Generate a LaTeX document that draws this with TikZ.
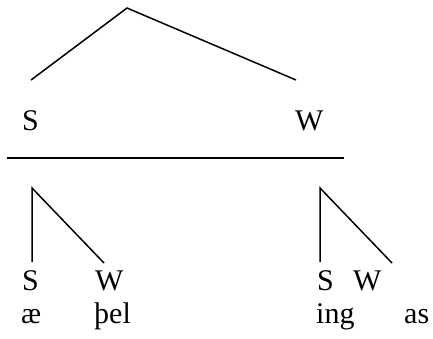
\documentclass[tikz,border=0pt]{standalone}
\usepackage{fontspec}
\setmainfont{Liberation Serif}
\newfontfamily\tnr{Liberation Serif}
\begin{document}
\begin{tikzpicture}[x=1pt,y=-1pt,
  lbl/.style={anchor=base west,inner sep=0pt,font=\tnr\fontsize{30}{36}\selectfont},
  edge/.style={line width=1.5pt}]
\useasboundingbox (0,0) rectangle (433,338);
% top tree
\coordinate (root) at (127,8);
\coordinate (tl) at (31,80);
\coordinate (tr) at (296,80);
\draw[edge] (tl) -- (root) -- (tr);
\node[lbl] (S0) at (22,130) {S};
\node[lbl] (W0) at (295,130) {W};
% rule
\coordinate (h1) at (7,158);
\coordinate (h2) at (344,158);
\draw[edge] (h1) -- (h2);
% lower left tree
\coordinate (la) at (32,188);
\coordinate (lb) at (32,262);
\coordinate (lc) at (104,263);
\draw[edge] (lb) -- (la) -- (lc);
\node[lbl] (S1) at (22,290) {S};
\node[lbl] (W1) at (95,290) {W};
\node[lbl] (t1) at (21,323) {æ};
\node[lbl] (t2) at (94,323) {þel};
% lower right tree
\coordinate (ra) at (320,188);
\coordinate (rb) at (320,262);
\coordinate (rc) at (392,263);
\draw[edge] (rb) -- (ra) -- (rc);
\node[lbl] (S2) at (317,290) {S};
\node[lbl] (W2) at (353,290) {W};
\node[lbl] (t3) at (316,323) {ing};
\node[lbl] (t4) at (404,323) {as};
\end{tikzpicture}
\end{document}
